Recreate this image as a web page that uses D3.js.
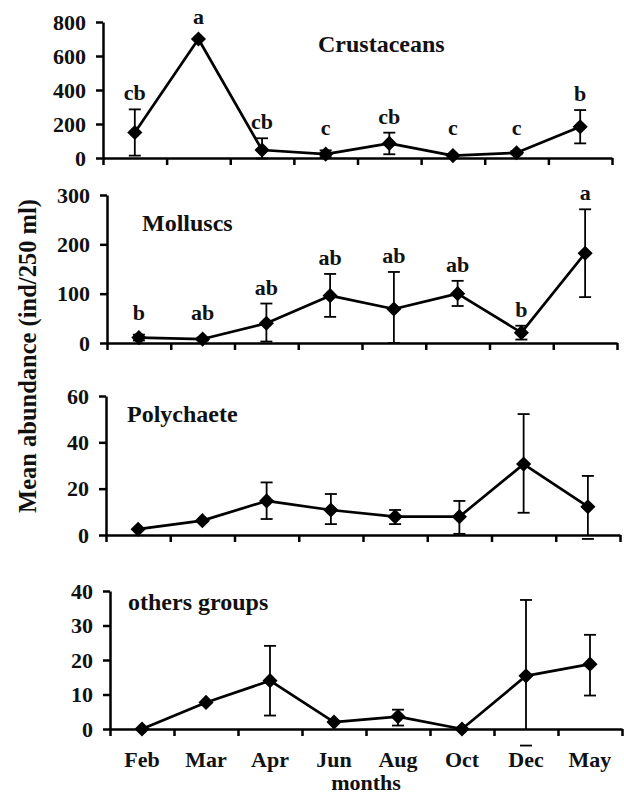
<!DOCTYPE html>
<html>
<head>
<meta charset="utf-8">
<script src="https://cdn.jsdelivr.net/npm/d3@7"></script>
</head>
<body style="margin:0">
<svg id="chart" width="624" height="800"></svg>
<script>
var months = ["Feb", "Mar", "Apr", "Jun", "Aug", "Oct", "Dec", "May"];

// Crustaceans
var crustMean = [150, 700, 47, 23, 86, 14, 31, 184];
var crustHi   = [286, null, 116, 45, 149, null, 40, 282];
var crustLo   = [14, null, -3, 5, 22, null, 22, 86];
var crustLetters = ["cb", "a", "cb", "c", "cb", "c", "c", "b"];
var crustTicks = [0, 200, 400, 600, 800];

// Molluscs
var mollMean = [11, 8, 40, 96, 69, 100, 21, 182];
var mollHi   = [17, 11, 80, 140, 144, 126, 35, 271];
var mollLo   = [5, 5, 3, 53, 0, 75, 7, 93];
var mollLetters = ["b", "ab", "ab", "ab", "ab", "ab", "b", "a"];
var mollTicks = [0, 100, 200, 300];

// Polychaete
var polyMean = [2.5, 6.2, 14.7, 10.8, 7.9, 7.9, 30.6, 12.2];
var polyHi   = [null, null, 22.7, 17.7, 10.8, 14.7, 52.2, 25.5];
var polyLo   = [null, null, 6.9, 4.7, 4.7, 0.5, 9.6, -1.7];
var polyTicks = [0, 20, 40, 60];

// others groups
var othMean = [0, 7.7, 14, 2, 3.6, 0, 15.4, 18.8];
var othHi   = [null, null, 24.1, null, 5.6, null, 37.4, 27.3];
var othLo   = [null, null, 3.9, null, 1, null, -4.8, 9.7];
var othTicks = [0, 10, 20, 30, 40];

var panels = [
  {name: "Crustaceans", mean: crustMean, hi: crustHi, lo: crustLo, letters: crustLetters, ticks: crustTicks,
   x0: 103, x1: 612, yTop: 22, yZero: 158, tx: 318, ty: 52},
  {name: "Molluscs", mean: mollMean, hi: mollHi, lo: mollLo, letters: mollLetters, ticks: mollTicks,
   x0: 107, x1: 617, yTop: 195, yZero: 343, tx: 142, ty: 231},
  {name: "Polychaete", mean: polyMean, hi: polyHi, lo: polyLo, letters: null, ticks: polyTicks,
   x0: 106, x1: 620, yTop: 396, yZero: 535, tx: 127, ty: 422},
  {name: "others groups", mean: othMean, hi: othHi, lo: othLo, letters: null, ticks: othTicks,
   x0: 110, x1: 622, yTop: 591, yZero: 729, tx: 128, ty: 610}
];

// bold serif text, like the figure
function serif(sel, size) {
  sel.style("font-family", "'Liberation Serif'")
     .style("font-weight", "bold")
     .style("font-size", size + "px")
     .attr("fill", "#111");
}

var svg = d3.select("#chart");

var diamond = d3.symbol().type(d3.symbolSquare).size(115);

panels.forEach(function(p, pi) {
  var g = svg.append("g");

  var x = d3.scaleBand().domain(months).range([p.x0, p.x1]).padding(0);
  var xIdx = d3.scaleLinear().domain([0, months.length]).range([p.x0, p.x1]);
  var y = d3.scaleLinear()
      .domain([0, p.ticks[p.ticks.length - 1]])
      .range([p.yZero, p.yTop]);

  // x axis with ticks at month boundaries
  g.append("g")
      .attr("transform", "translate(0," + p.yZero + ")")
      .call(d3.axisBottom(xIdx).tickValues(d3.range(months.length + 1))
            .tickFormat("").tickSize(7).tickSizeOuter(0));

  var ya = g.append("g")
      .attr("transform", "translate(" + p.x0 + ",0)")
      .call(d3.axisLeft(y).tickValues(p.ticks).tickSize(7).tickSizeOuter(0).tickPadding(10));
  ya.attr("font-family", null).attr("font-size", null);

  g.selectAll(".domain, .tick line")
      .attr("stroke", "#000")
      .attr("stroke-width", 2.5);
  ya.selectAll("text").call(serif, 22);

  // month labels on the bottom panel only
  if (pi === panels.length - 1) {
    g.selectAll(".mlab")
        .data(months)
        .enter().append("text")
        .attr("class", "mlab")
        .attr("x", function(d) { return x(d) + x.bandwidth() / 2; })
        .attr("y", 767)
        .attr("text-anchor", "middle")
        .call(serif, 22)
        .text(function(d) { return d; });
  }

  var pts = months.map(function(m, i) {
    return {m: m, v: p.mean[i], hi: p.hi[i], lo: p.lo[i], letter: p.letters ? p.letters[i] : null};
  });

  // error bars
  var eb = g.selectAll(".eb")
      .data(pts.filter(function(d) { return d.hi !== null; }))
      .enter().append("g")
      .attr("stroke", "#000")
      .attr("stroke-width", 1.8);
  eb.append("line")
      .attr("x1", function(d) { return x(d.m) + x.bandwidth() / 2; })
      .attr("x2", function(d) { return x(d.m) + x.bandwidth() / 2; })
      .attr("y1", function(d) { return y(d.hi); })
      .attr("y2", function(d) { return y(Math.max(d.lo, 0)); });
  eb.append("line")
      .attr("x1", function(d) { return x(d.m) + x.bandwidth() / 2 - 6; })
      .attr("x2", function(d) { return x(d.m) + x.bandwidth() / 2 + 6; })
      .attr("y1", function(d) { return y(d.hi); })
      .attr("y2", function(d) { return y(d.hi); });
  eb.append("line")
      .attr("x1", function(d) { return x(d.m) + x.bandwidth() / 2 - 6; })
      .attr("x2", function(d) { return x(d.m) + x.bandwidth() / 2 + 6; })
      .attr("y1", function(d) { return y(d.lo); })
      .attr("y2", function(d) { return y(d.lo); });

  // mean line
  var line = d3.line()
      .x(function(d) { return x(d.m) + x.bandwidth() / 2; })
      .y(function(d) { return y(d.v); });
  g.append("path")
      .datum(pts)
      .attr("d", line)
      .attr("fill", "none")
      .attr("stroke", "#000")
      .attr("stroke-width", 2.7)
      .attr("stroke-linejoin", "round");

  g.selectAll(".pt")
      .data(pts)
      .enter().append("path")
      .attr("d", diamond)
      .attr("fill", "#000")
      .attr("transform", function(d) {
        return "translate(" + (x(d.m) + x.bandwidth() / 2) + "," + y(d.v) + ") rotate(45)";
      });

  // significance letters
  if (p.letters) {
    g.selectAll(".let")
        .data(pts)
        .enter().append("text")
        .attr("x", function(d) { return x(d.m) + x.bandwidth() / 2; })
        .attr("y", function(d) {
          var top = d.hi !== null ? y(d.hi) - 9 : y(d.v) - 15;
          return Math.min(top, p.yZero - 23);
        })
        .attr("text-anchor", "middle")
        .call(serif, 22)
        .text(function(d) { return d.letter; });
  }

  g.append("text")
      .attr("x", p.tx)
      .attr("y", p.ty)
      .call(serif, 24)
      .text(p.name);
});

svg.append("text")
    .attr("transform", "translate(27,356) rotate(-90)")
    .attr("dy", "0.35em")
    .attr("text-anchor", "middle")
    .call(serif, 24.5)
    .text("Mean abundance (ind/250 ml)");

svg.append("text")
    .attr("x", 366)
    .attr("y", 790)
    .attr("text-anchor", "middle")
    .call(serif, 22)
    .text("months");
</script>
</body>
</html>
